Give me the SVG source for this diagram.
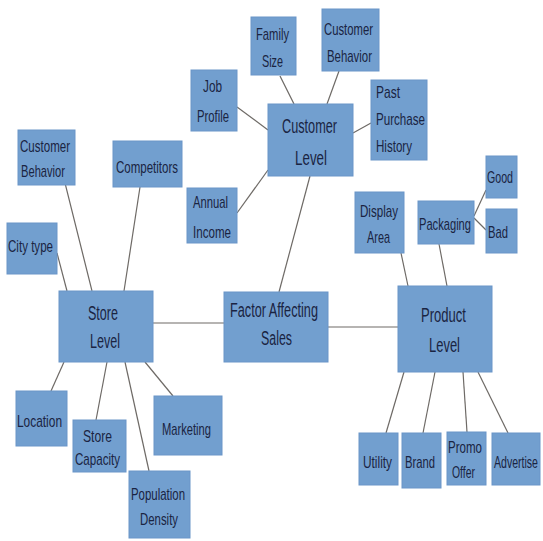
<svg xmlns="http://www.w3.org/2000/svg" width="543" height="541" viewBox="0 0 543 541">
<style>
.n{fill:#729fcf;stroke:#6a95c8;stroke-width:1}
.t{font-family:"Liberation Sans","DejaVu Sans",sans-serif;font-size:17px;fill:#1a2442}
.b{font-size:20px}
.c line{stroke:#6e6a66;stroke-width:1.2}
</style>
<rect width="543" height="541" fill="#ffffff"/>
<g class="c" id="connectors">
<line x1="280" y1="76" x2="294" y2="104"/>
<line x1="339" y1="71" x2="327" y2="104"/>
<line x1="237" y1="107" x2="268" y2="130"/>
<line x1="371" y1="123" x2="353" y2="133"/>
<line x1="237" y1="213" x2="268" y2="170"/>
<line x1="310" y1="176" x2="279" y2="292"/>
<line x1="65" y1="183" x2="92" y2="291"/>
<line x1="140" y1="187" x2="124" y2="291"/>
<line x1="57" y1="253" x2="67" y2="291"/>
<line x1="153" y1="323" x2="224" y2="323"/>
<line x1="64" y1="362" x2="51" y2="391"/>
<line x1="107" y1="362" x2="96" y2="420"/>
<line x1="125" y1="362" x2="149" y2="471"/>
<line x1="145" y1="362" x2="173" y2="396"/>
<line x1="328" y1="327" x2="398" y2="327"/>
<line x1="401" y1="253" x2="408" y2="286"/>
<line x1="439" y1="244" x2="447" y2="286"/>
<line x1="474" y1="216" x2="486" y2="190"/>
<line x1="474" y1="218" x2="486" y2="230"/>
<line x1="404" y1="372" x2="386" y2="433"/>
<line x1="435" y1="372" x2="423" y2="433"/>
<line x1="463" y1="372" x2="467" y2="432"/>
<line x1="478" y1="372" x2="508" y2="433"/>
</g>
<g id="customer-level"><rect class="n" x="268" y="104" width="85" height="72"/>
<text class="t b" x="282" y="133" textLength="55" lengthAdjust="spacingAndGlyphs">Customer</text>
<text class="t b" x="295" y="165" textLength="32" lengthAdjust="spacingAndGlyphs">Level</text></g>
<g id="family-size"><rect class="n" x="251" y="17" width="45" height="58"/>
<text class="t" x="256" y="40" textLength="33" lengthAdjust="spacingAndGlyphs">Family</text>
<text class="t" x="262" y="67" textLength="21" lengthAdjust="spacingAndGlyphs">Size</text></g>
<g id="customer-behavior-top"><rect class="n" x="322" y="9" width="57" height="62"/>
<text class="t" x="324" y="35" textLength="49" lengthAdjust="spacingAndGlyphs">Customer</text>
<text class="t" x="327" y="62" textLength="45" lengthAdjust="spacingAndGlyphs">Behavior</text></g>
<g id="job-profile"><rect class="n" x="191" y="70" width="46" height="61"/>
<text class="t" x="203" y="92" textLength="19" lengthAdjust="spacingAndGlyphs">Job</text>
<text class="t" x="197" y="122" textLength="32" lengthAdjust="spacingAndGlyphs">Profile</text></g>
<g id="past-purchase-history"><rect class="n" x="371" y="80" width="56" height="80"/>
<text class="t" x="376" y="98" textLength="24" lengthAdjust="spacingAndGlyphs">Past</text>
<text class="t" x="376" y="125" textLength="49" lengthAdjust="spacingAndGlyphs">Purchase</text>
<text class="t" x="376" y="152" textLength="36" lengthAdjust="spacingAndGlyphs">History</text></g>
<g id="annual-income"><rect class="n" x="187" y="188" width="50" height="55"/>
<text class="t" x="193" y="208" textLength="35" lengthAdjust="spacingAndGlyphs">Annual</text>
<text class="t" x="193" y="238" textLength="38" lengthAdjust="spacingAndGlyphs">Income</text></g>
<g id="factor-affecting-sales"><rect class="n" x="224" y="292" width="104" height="70"/>
<text class="t b" x="230" y="317" textLength="88" lengthAdjust="spacingAndGlyphs">Factor Affecting</text>
<text class="t b" x="261" y="345" textLength="31" lengthAdjust="spacingAndGlyphs">Sales</text></g>
<g id="store-level"><rect class="n" x="59" y="291" width="94" height="71"/>
<text class="t b" x="88" y="320" textLength="30" lengthAdjust="spacingAndGlyphs">Store</text>
<text class="t b" x="90" y="348" textLength="30" lengthAdjust="spacingAndGlyphs">Level</text></g>
<g id="customer-behavior-left"><rect class="n" x="18" y="130" width="57" height="55"/>
<text class="t" x="20" y="152" textLength="50" lengthAdjust="spacingAndGlyphs">Customer</text>
<text class="t" x="21" y="177" textLength="44" lengthAdjust="spacingAndGlyphs">Behavior</text></g>
<g id="competitors"><rect class="n" x="113" y="141" width="69" height="46"/>
<text class="t" x="116" y="173" textLength="62" lengthAdjust="spacingAndGlyphs">Competitors</text></g>
<g id="city-type"><rect class="n" x="7" y="223" width="50" height="51"/>
<text class="t" x="8" y="252" textLength="45" lengthAdjust="spacingAndGlyphs">City type</text></g>
<g id="location"><rect class="n" x="16" y="391" width="51" height="55"/>
<text class="t" x="17" y="427" textLength="45" lengthAdjust="spacingAndGlyphs">Location</text></g>
<g id="store-capacity"><rect class="n" x="73" y="420" width="53" height="52"/>
<text class="t" x="83" y="442" textLength="29" lengthAdjust="spacingAndGlyphs">Store</text>
<text class="t" x="75" y="465" textLength="45" lengthAdjust="spacingAndGlyphs">Capacity</text></g>
<g id="marketing"><rect class="n" x="154" y="396" width="68" height="59"/>
<text class="t" x="162" y="435" textLength="49" lengthAdjust="spacingAndGlyphs">Marketing</text></g>
<g id="population-density"><rect class="n" x="129" y="471" width="61" height="67"/>
<text class="t" x="131" y="500" textLength="54" lengthAdjust="spacingAndGlyphs">Population</text>
<text class="t" x="140" y="525" textLength="38" lengthAdjust="spacingAndGlyphs">Density</text></g>
<g id="product-level"><rect class="n" x="398" y="286" width="94" height="86"/>
<text class="t b" x="421" y="322" textLength="45" lengthAdjust="spacingAndGlyphs">Product</text>
<text class="t b" x="429" y="352" textLength="31" lengthAdjust="spacingAndGlyphs">Level</text></g>
<g id="display-area"><rect class="n" x="355" y="192" width="49" height="61"/>
<text class="t" x="360" y="217" textLength="38" lengthAdjust="spacingAndGlyphs">Display</text>
<text class="t" x="367" y="243" textLength="23" lengthAdjust="spacingAndGlyphs">Area</text></g>
<g id="packaging"><rect class="n" x="418" y="201" width="56" height="43"/>
<text class="t" x="419" y="230" textLength="52" lengthAdjust="spacingAndGlyphs">Packaging</text></g>
<g id="good"><rect class="n" x="486" y="156" width="31" height="42"/>
<text class="t" x="487" y="183" textLength="26" lengthAdjust="spacingAndGlyphs">Good</text></g>
<g id="bad"><rect class="n" x="486" y="209" width="31" height="44"/>
<text class="t" x="488" y="238" textLength="20" lengthAdjust="spacingAndGlyphs">Bad</text></g>
<g id="utility"><rect class="n" x="359" y="433" width="39" height="52"/>
<text class="t" x="363" y="468" textLength="29" lengthAdjust="spacingAndGlyphs">Utility</text></g>
<g id="brand"><rect class="n" x="402" y="433" width="39" height="55"/>
<text class="t" x="405" y="468" textLength="30" lengthAdjust="spacingAndGlyphs">Brand</text></g>
<g id="promo-offer"><rect class="n" x="447" y="432" width="39" height="53"/>
<text class="t" x="448" y="453" textLength="34" lengthAdjust="spacingAndGlyphs">Promo</text>
<text class="t" x="452" y="478" textLength="23" lengthAdjust="spacingAndGlyphs">Offer</text></g>
<g id="advertise"><rect class="n" x="492" y="433" width="48" height="52"/>
<text class="t" x="494" y="468" textLength="44" lengthAdjust="spacingAndGlyphs">Advertise</text></g>
</svg>
